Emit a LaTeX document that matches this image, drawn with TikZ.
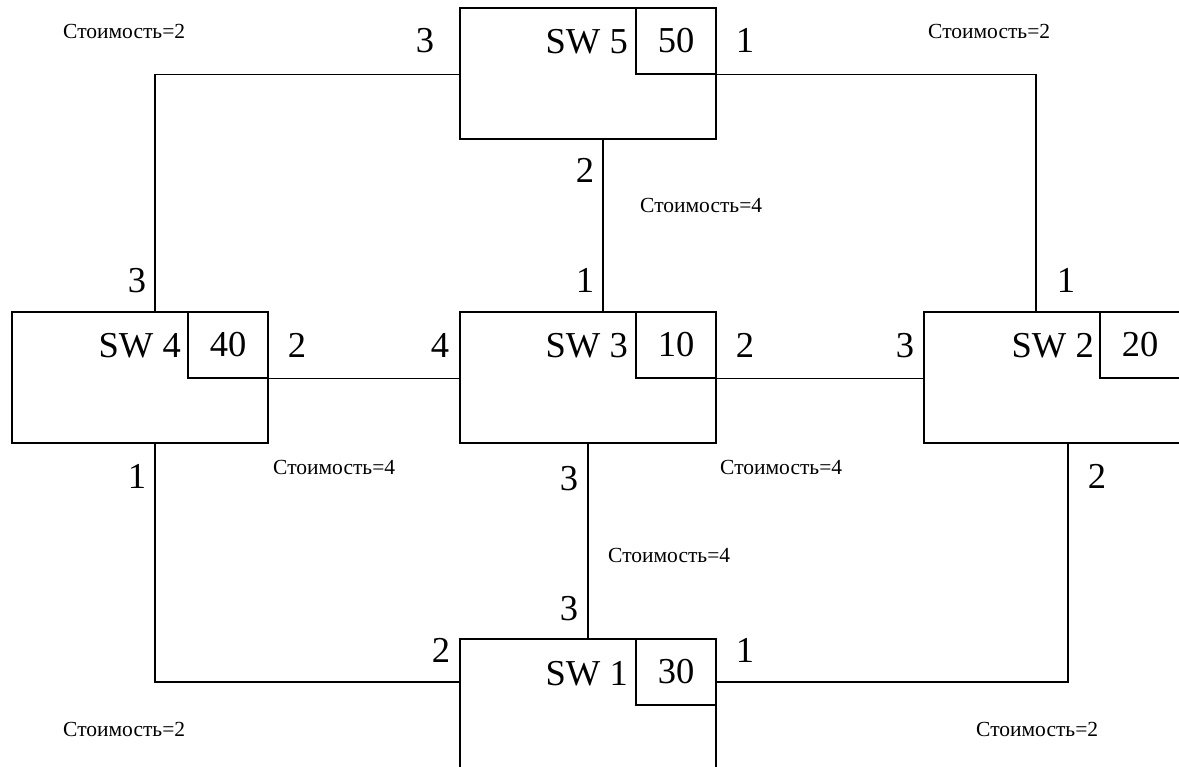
\documentclass[tikz,border=0pt]{standalone}
\usepackage{fontspec}
\setmainfont{Liberation Serif}
\newcommand\bigfnt{\fontsize{36.5}{40}\selectfont}
\newcommand\costfnt{\fontsize{21.5}{24}\selectfont}
\begin{document}
\begin{tikzpicture}[x=1pt,y=-1pt,
  swbox/.style={draw, line width=1.5pt, minimum width=256pt, minimum height=131pt, inner sep=0pt},
  idbox/.style={draw, line width=1.5pt, minimum width=80pt, minimum height=66pt, inner sep=0pt, font=\bigfnt, anchor=north east},
  link/.style={line width=1.5pt},
  port/.style={font=\bigfnt, inner sep=0pt, anchor=base},
  swlabel/.style={font=\bigfnt, inner sep=0pt, anchor=base east},
  cost/.style={font=\costfnt, inner sep=0pt, anchor=base west}]
\useasboundingbox (0,0) rectangle (1179,767);
\clip (0,0) rectangle (1179,767);
% switches
\node[swbox] (sw5) at (588,73.5) {};
\node[swbox] (sw4) at (140,377.5) {};
\node[swbox] (sw3) at (588,377.5) {};
\node[swbox] (sw2) at (1052,377.5) {};
\node[swbox] (sw1) at (588,704.5) {};
\node[idbox] (id5) at (sw5.north east) {50};
\node[idbox] (id4) at (sw4.north east) {40};
\node[idbox] (id3) at (sw3.north east) {10};
\node[idbox] (id2) at (sw2.north east) {20};
\node[idbox] (id1) at (sw1.north east) {30};
\node[swlabel] (l5) at (628,54) {SW 5};
\node[swlabel] (l4) at (181,358) {SW 4};
\node[swlabel] (l3) at (628,358) {SW 3};
\node[swlabel] (l2) at (1094,358) {SW 2};
\node[swlabel] (l1) at (628,685) {SW 1};
% links
\draw[link] (sw5.west |- id5.south) -| ([xshift=15pt]sw4.north);
\draw[link] (sw5.east |- id5.south) -| ([xshift=-16pt]sw2.north);
\draw[link] ([xshift=15pt]sw5.south) -- ([xshift=15pt]sw3.north);
\draw[link] (sw4.east |- id4.south) -- (sw3.west |- id4.south);
\draw[link] (sw3.east |- id3.south) -- (sw2.west |- id3.south);
\draw[link] ([xshift=15pt]sw4.south) |- ([yshift=22.5pt]sw1.west);
\draw[link] (sw3.south) -- (sw1.north);
\draw[link] ([xshift=16pt]sw2.south) |- ([yshift=22.5pt]sw1.east);
% port numbers
\node[port] (p53) at (425,53) {3};
\node[port] (p51) at (745,53) {1};
\node[port] (p52) at (585,183) {2};
\node[port] (p43) at (137,293) {3};
\node[port] (p31) at (585,293) {1};
\node[port] (p21) at (1066,293) {1};
\node[port] (p42) at (297,358) {2};
\node[port] (p34) at (440,358) {4};
\node[port] (p32) at (745,358) {2};
\node[port] (p23) at (905,358) {3};
\node[port] (p41) at (137,488) {1};
\node[port] (p33) at (569,490) {3};
\node[port] (p22) at (1097,488) {2};
\node[port] (p13) at (569,620) {3};
\node[port] (p12) at (441,662) {2};
\node[port] (p11) at (745,662) {1};
% costs
\node[cost] (c1) at (63,39) {Стоимость=2};
\node[cost] (c2) at (928,39) {Стоимость=2};
\node[cost] (c3) at (640,213) {Стоимость=4};
\node[cost] (c4) at (273,475) {Стоимость=4};
\node[cost] (c5) at (720,475) {Стоимость=4};
\node[cost] (c6) at (608,562) {Стоимость=4};
\node[cost] (c7) at (63,736) {Стоимость=2};
\node[cost] (c8) at (976,736) {Стоимость=2};
\end{tikzpicture}
\end{document}
